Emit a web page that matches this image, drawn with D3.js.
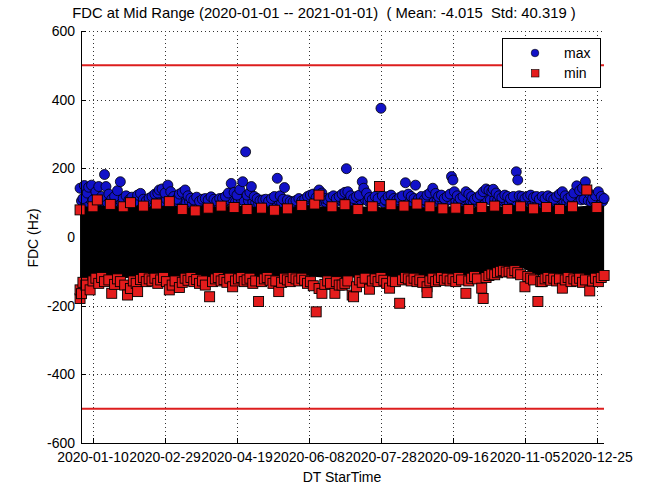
<!DOCTYPE html>
<html><head><meta charset="utf-8">
<script src="https://cdn.jsdelivr.net/npm/d3@7"></script>
<style>body{margin:0;background:#fff}svg{display:block}text{font-family:"Liberation Sans",Arial,sans-serif;fill:#000;white-space:pre}</style>
</head><body><svg id="c" width="647" height="486"></svg>
<script>
// ---- data (day = days after 2020-01-01) ----
const titleText = "FDC at Mid Range (2020-01-01 -- 2021-01-01)  ( Mean: -4.015  Std: 40.319 )";
const xTickLabels = ["2020-01-10","2020-02-29","2020-04-19","2020-06-08","2020-07-28","2020-09-16","2020-11-05","2020-12-25"];
const yTicks = [-600,-400,-200,0,200,400,600];
const limitLines = [500,-500];
const seriesNames = ["max","min"];

// blue circles: maximum values [day, Hz]
const maxPoints = [[1,105],[4,100],[7,110],[10,102],[12,98],[14,108],[16,104],[19,100],[21,106],[23,98],[25,104],[27,110],[29,100],[31,104],[33,98],[35,106],[37,100],[39,108],[41,102],[43,98],[45,104],[47,100],[49,106],[51,100],[53,104],[56,108],[58,102],[60,110],[62,104],[64,100],[66,106],[68,98],[70,104],[72,108],[74,100],[76,104],[78,98],[80,102],[82,100],[84,98],[86,104],[88,100],[90,98],[92,102],[94,100],[96,98],[98,104],[100,100],[102,106],[104,108],[106,110],[108,102],[110,106],[112,110],[114,104],[117,106],[120,102],[122,100],[124,98],[126,102],[128,98],[130,100],[132,98],[134,102],[136,104],[138,106],[140,100],[143,102],[145,98],[147,100],[149,98],[151,102],[153,98],[155,100],[157,104],[159,106],[161,108],[163,104],[165,110],[167,106],[169,102],[171,100],[173,104],[175,106],[177,102],[179,104],[181,108],[183,110],[187,106],[189,104],[191,100],[193,104],[195,108],[198,110],[200,104],[202,100],[204,104],[206,102],[208,106],[211,100],[213,104],[215,106],[217,102],[219,100],[221,104],[223,106],[225,108],[227,106],[229,104],[231,100],[234,104],[236,102],[238,100],[240,106],[242,108],[244,110],[246,108],[248,104],[250,106],[252,102],[254,104],[256,108],[261,106],[263,102],[265,104],[267,108],[269,110],[271,106],[273,102],[275,104],[277,106],[279,110],[281,112],[283,110],[285,108],[288,110],[290,106],[292,104],[294,106],[296,104],[298,102],[300,104],[302,106],[306,104],[308,102],[310,104],[312,106],[314,102],[316,104],[318,100],[320,102],[322,104],[324,106],[326,102],[328,100],[330,104],[332,108],[334,110],[336,106],[338,102],[340,104],[342,108],[344,110],[346,112],[348,108],[350,110],[353,106],[355,102],[357,104],[359,108],[361,106],[363,104],
[0,142],[2,112],[3,150],[5,128],[6,145],[8,151],[9,108],[11,132],[13,147],[15,118],[17,182],[18,147],[20,125],[22,110],[24,118],[26,135],[28,161],[30,112],[32,120],[34,108],[36,116],[38,104],[40,122],[42,127],[44,110],[46,105],[48,113],[50,118],[52,125],[54,128],[55,137],[57,140],[59,128],[61,151],[63,132],[65,118],[67,110],[69,125],[71,130],[73,137],[75,120],[77,113],[79,108],[81,116],[83,104],[85,110],[87,112],[89,108],[91,117],[93,110],[95,105],[97,112],[99,113],[101,118],[103,128],[105,156],[107,130],[109,122],[111,138],[113,161],[115,248],[116,122],[118,130],[119,147],[121,118],[123,112],[125,106],[127,108],[129,110],[131,104],[133,112],[135,118],[137,171],[139,120],[141,110],[142,144],[144,108],[146,104],[148,102],[150,106],[152,112],[154,105],[156,110],[158,118],[160,122],[162,125],[164,115],[166,137],[168,128],[170,112],[172,108],[174,115],[176,120],[178,112],[180,118],[182,125],[184,130],[185,199],[186,132],[188,120],[190,112],[192,118],[194,122],[196,161],[197,142],[199,128],[201,115],[203,110],[205,118],[207,112],[209,375],[210,120],[212,108],[214,118],[216,122],[218,112],[220,108],[222,115],[224,120],[226,158],[228,125],[230,118],[232,112],[233,151],[235,111],[237,118],[239,108],[241,122],[243,128],[245,142],[247,127],[249,118],[251,122],[253,112],[255,118],[257,125],[258,176],[259,166],[260,132],[262,120],[264,112],[266,118],[268,132],[270,125],[272,118],[274,110],[276,115],[278,122],[280,132],[282,140],[284,136],[286,132],[287,139],[289,128],[291,120],[293,115],[295,122],[297,118],[299,112],[301,118],[303,190],[304,166],[305,120],[307,118],[309,112],[311,118],[313,122],[315,115],[317,118],[319,110],[321,118],[323,112],[325,120],[327,115],[329,110],[331,118],[333,125],[335,132],[337,120],[339,112],[341,118],[343,128],[345,149],[347,135],[349,142],[351,161],[352,137],[354,125],[356,112],[358,120],[360,132],[362,118],[364,112]];

// red squares: minimum values, upper fringe [day, Hz]
const minTopPoints = [[0,79],[9,88],[12,108],[21,95],[30,88],[35,100],[44,90],[53,96],[62,103],[71,80],[80,76],[89,84],[98,90],[107,86],[116,80],[126,84],[135,78],[144,82],[154,92],[163,96],[166,122],[175,88],[184,94],[193,80],[203,88],[208,147],[216,94],[225,90],[234,96],[243,88],[252,82],[261,84],[270,80],[279,86],[288,90],[297,80],[306,88],[315,82],[324,86],[333,80],[342,88],[352,137],[359,86]];

// red squares: minimum values, lower fringe [day, Hz]
const minBottomPoints = [[0,-179],[0,-154],[1,-165],[2,-132],[4,-140],[7,-154],[9,-128],[11,-120],[13,-135],[15,-118],[17,-130],[20,-125],[22,-164],[24,-138],[26,-122],[28,-130],[31,-140],[33,-169],[35,-150],[37,-128],[39,-135],[40,-159],[42,-124],[44,-118],[46,-130],[48,-122],[50,-128],[52,-120],[54,-135],[56,-125],[58,-118],[60,-130],[62,-154],[64,-140],[66,-128],[69,-147],[71,-132],[73,-120],[75,-126],[77,-118],[79,-130],[81,-124],[83,-135],[85,-128],[87,-140],[90,-174],[92,-130],[94,-122],[96,-118],[98,-128],[100,-124],[102,-132],[104,-120],[106,-145],[108,-128],[110,-122],[112,-118],[114,-130],[116,-125],[118,-120],[120,-135],[122,-128],[124,-188],[126,-130],[128,-122],[130,-118],[132,-126],[134,-135],[136,-128],[138,-159],[140,-132],[142,-120],[144,-125],[146,-130],[148,-118],[150,-122],[152,-128],[154,-120],[156,-126],[158,-135],[160,-130],[162,-142],[164,-218],[166,-150],[168,-164],[170,-138],[172,-128],[174,-135],[177,-164],[178,-130],[180,-140],[182,-140],[184,-135],[186,-128],[189,-169],[190,-174],[192,-145],[194,-125],[196,-132],[198,-120],[201,-152],[203,-128],[205,-122],[207,-130],[209,-118],[211,-126],[213,-135],[215,-149],[217,-128],[219,-130],[222,-193],[224,-125],[226,-118],[228,-122],[230,-128],[232,-120],[234,-130],[236,-125],[238,-132],[241,-145],[241,-162],[243,-128],[245,-120],[247,-130],[249,-125],[251,-118],[253,-126],[255,-120],[257,-128],[259,-122],[261,-130],[263,-118],[265,-125],[268,-164],[270,-128],[272,-120],[274,-115],[276,-122],[279,-149],[280,-179],[282,-118],[284,-112],[286,-108],[288,-110],[290,-104],[292,-100],[294,-98],[296,-102],[298,-100],[300,-105],[302,-98],[304,-104],[306,-110],[309,-145],[311,-115],[313,-120],[315,-125],[318,-188],[320,-130],[321,-130],[323,-122],[325,-118],[327,-126],[329,-120],[331,-128],[333,-122],[335,-149],[337,-125],[339,-118],[341,-130],[343,-122],[345,-128],[347,-120],[349,-132],[351,-125],[354,-157],[356,-128],[358,-120],[360,-130],[362,-118],[364,-112]];

// dense overlapping core of all readings (weekly envelope)
const coreDays = [0,7,14,21,28,35,42,49,56,63,70,77,84,91,98,105,112,119,126,133,140,147,154,161,168,175,182,189,196,203,210,217,224,231,238,245,252,259,266,273,280,287,294,301,308,315,322,329,336,343,350,357,364];
const coreHigh = [90,88,92,88,90,86,92,88,90,94,88,86,90,88,86,92,90,88,86,90,88,86,90,92,88,90,86,92,88,90,86,88,92,90,86,88,92,88,90,86,92,90,88,92,90,88,86,90,92,88,90,92,90];
const coreLow = [-135,-125,-118,-120,-122,-118,-120,-116,-122,-118,-120,-115,-118,-122,-120,-118,-116,-120,-118,-122,-125,-120,-118,-115,-118,-120,-122,-118,-120,-116,-118,-115,-118,-120,-116,-118,-114,-116,-112,-110,-108,-100,-92,-88,-92,-108,-115,-118,-116,-118,-115,-112,-112];

// ---- drawing ----
const svg = d3.select("#c");
const t0 = Date.UTC(2020,0,1);
const dayDate = d => new Date(t0 + d*86400000);
const x = d3.scaleUtc().domain([new Date(Date.UTC(2020,0,1,16)), new Date(Date.UTC(2020,11,29,22))]).range([81,604]);
const y = d3.scaleLinear().domain([-600,600]).range([443,31]);
const parse = d3.utcParse("%Y-%m-%d");
const xTicks = xTickLabels.map(parse);
const BLUE = "#1212c8", RED = "#e41c1c";

// grid
const g = svg.append("g");
g.selectAll("line.vg").data(xTicks).join("line")
  .attr("x1",d=>Math.round(x(d))+0.5).attr("x2",d=>Math.round(x(d))+0.5)
  .attr("y1",31).attr("y2",443).attr("stroke","#333").attr("stroke-dasharray","1,3");
g.selectAll("line.hg").data(yTicks.filter(v=>v>-600)).join("line")
  .attr("y1",d=>Math.round(y(d))+0.5).attr("y2",d=>Math.round(y(d))+0.5)
  .attr("x1",81).attr("x2",604).attr("stroke","#333").attr("stroke-dasharray","1,3");

// max circles
svg.append("g").selectAll("circle").data(maxPoints).join("circle")
  .attr("cx",d=>x(dayDate(d[0]))).attr("cy",d=>y(d[1])).attr("r",5)
  .attr("fill",BLUE).attr("stroke","#000").attr("stroke-width",0.8);

// dense core
const area = d3.area().x((d,i)=>x(dayDate(coreDays[i]))).y0((d,i)=>y(coreLow[i])).y1((d,i)=>y(coreHigh[i]));
svg.append("path").datum(coreDays).attr("d",area).attr("fill","#000");

// min squares
const sq = 10;
svg.append("g").selectAll("rect").data(minTopPoints.concat(minBottomPoints)).join("rect")
  .attr("x",d=>x(dayDate(d[0]))-sq/2).attr("y",d=>y(d[1])-sq/2).attr("width",sq).attr("height",sq)
  .attr("fill",RED).attr("stroke","#000").attr("stroke-width",0.9);

// limit lines
svg.append("g").selectAll("line").data(limitLines).join("line")
  .attr("x1",81).attr("x2",604).attr("y1",d=>y(d)).attr("y2",d=>y(d))
  .attr("stroke","#dd1e1e").attr("stroke-width",2);

// axes
const ax = svg.append("g").attr("stroke","#000");
ax.append("line").attr("x1",81.5).attr("x2",81.5).attr("y1",31).attr("y2",443.5);
ax.append("line").attr("x1",81).attr("x2",604).attr("y1",443.5).attr("y2",443.5);
ax.selectAll("line.yt").data(yTicks).join("line").attr("x1",81).attr("x2",86)
  .attr("y1",d=>Math.round(y(d))+0.5).attr("y2",d=>Math.round(y(d))+0.5);
ax.selectAll("line.xt").data(xTicks).join("line").attr("y1",443).attr("y2",438)
  .attr("x1",d=>Math.round(x(d))+0.5).attr("x2",d=>Math.round(x(d))+0.5);

const fs = 14;
svg.append("g").selectAll("text").data(yTicks).join("text")
  .attr("x",75).attr("y",d=>y(d)).attr("dy","0.36em").attr("text-anchor","end")
  .attr("font-size",fs).text(d=>d);
svg.append("g").selectAll("text").data(xTicks).join("text")
  .attr("x",d=>x(d)).attr("y",462).attr("text-anchor","middle").attr("font-size",fs)
  .text(d=>d3.utcFormat("%Y-%m-%d")(d));
svg.append("text").attr("x",342).attr("y",482).attr("text-anchor","middle").attr("font-size",fs).text("DT StarTime");
svg.append("text").attr("transform","translate(38,238) rotate(-90)").attr("text-anchor","middle").attr("font-size",fs).text("FDC (Hz)");
svg.append("text").attr("x",324).attr("y",18).attr("text-anchor","middle").attr("font-size",14.8).text(titleText);

// legend
const lg = svg.append("g");
lg.append("rect").attr("x",502.5).attr("y",38.5).attr("width",98).attr("height",49).attr("fill","#fff").attr("stroke","#000");
lg.append("circle").attr("cx",535).attr("cy",53).attr("r",3.8).attr("fill",BLUE).attr("stroke","#000").attr("stroke-width",0.6);
lg.append("rect").attr("x",531.5).attr("y",69.5).attr("width",7.5).attr("height",7.5).attr("fill",RED).attr("stroke","#000").attr("stroke-width",0.6);
lg.selectAll("text").data(seriesNames).join("text").attr("x",564).attr("y",(d,i)=>53+i*20).attr("dy","0.36em")
  .attr("font-size",fs).text(d=>d);
</script></body></html>
